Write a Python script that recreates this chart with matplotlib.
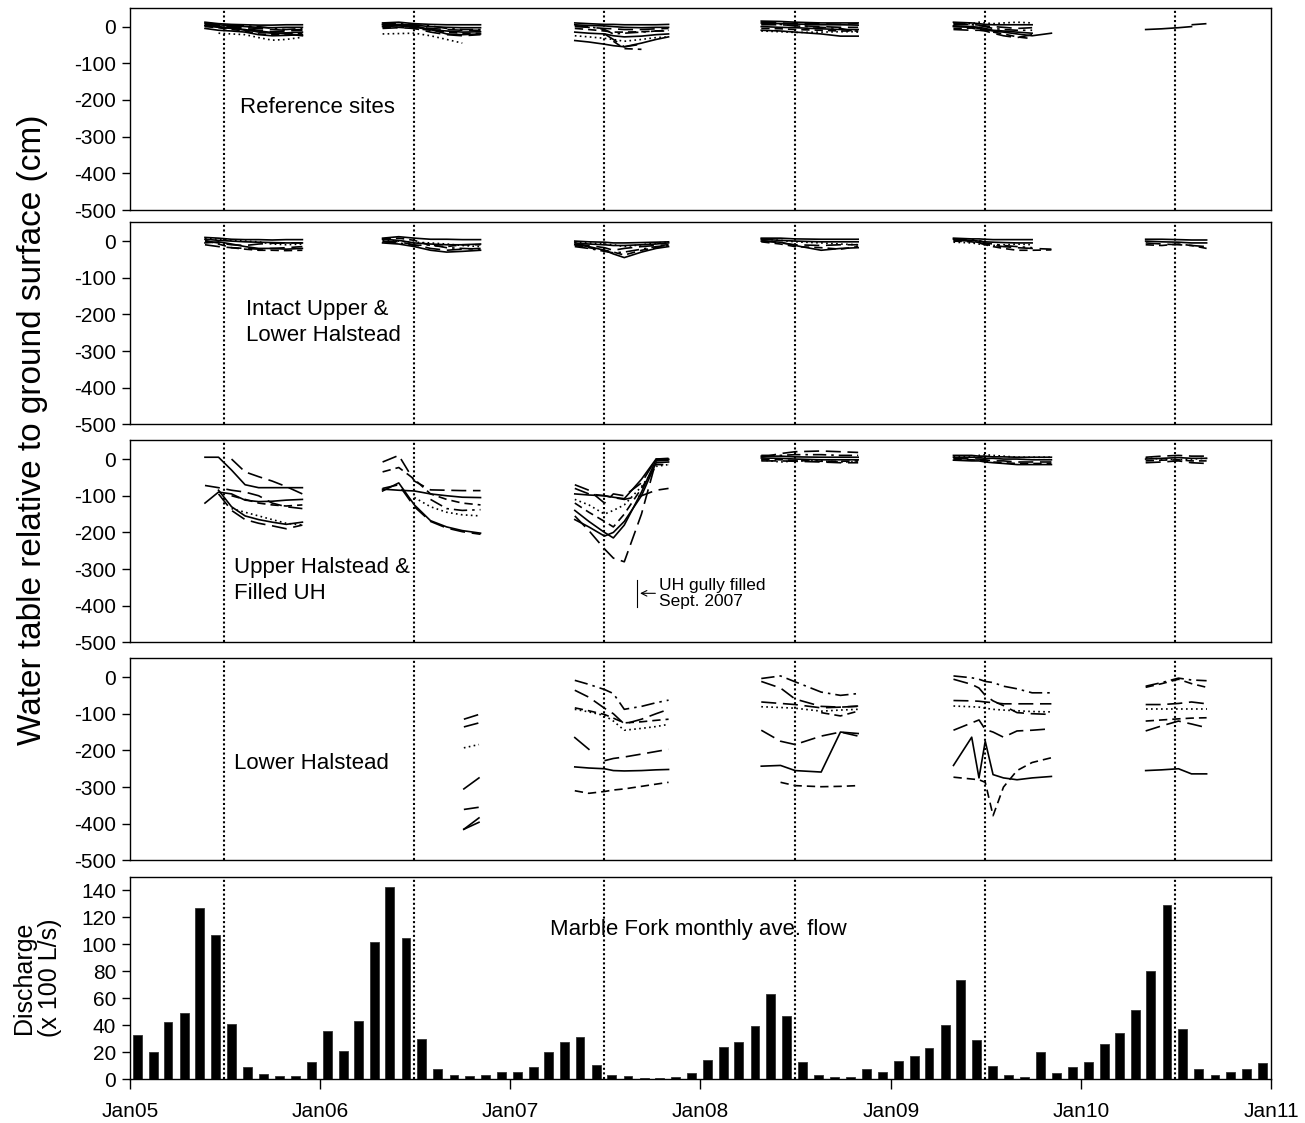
import numpy as np
import pandas as pd
import matplotlib
matplotlib.use("Agg")
import matplotlib.pyplot as plt
import matplotlib.dates as mdates

plt.rcParams['font.family'] = ['Liberation Sans', 'DejaVu Sans']
plt.rcParams['axes.unicode_minus'] = False

nan = np.nan

# sampling dates of each field season
D05 = ["2005-05-25", "2005-06-20", "2005-07-15", "2005-08-10", "2005-09-05", "2005-10-01", "2005-10-28", "2005-11-28"]
D06 = ["2006-05-01", "2006-06-01", "2006-07-01", "2006-08-01", "2006-09-01", "2006-10-01", "2006-11-05"]
D06L = ["2006-10-04", "2006-11-02"]
D07 = ["2007-05-05", "2007-06-01", "2007-07-01", "2007-07-18", "2007-08-08", "2007-09-10", "2007-10-08", "2007-11-01"]
D08 = ["2008-04-27", "2008-06-03", "2008-07-01", "2008-08-20", "2008-09-26", "2008-10-30"]
D09 = ["2009-05-01", "2009-06-05", "2009-06-19", "2009-07-01", "2009-07-16", "2009-08-05", "2009-08-31", "2009-09-29", "2009-11-05"]
D10 = ["2010-05-05", "2010-06-05", "2010-07-07", "2010-08-01", "2010-08-30"]

# --- Reference sites (cm)
REF05 = [[12, 8, 6, 5, 4, 4, 5, 5], [8, 5, 2, 0, -2, -3, -2, -2], [5, 2, -2, -6, -10, -14, -12, -10],
         [2, -2, -5, -8, -15, -18, -17, -15], [0, -3, -8, -12, -20, -22, -20, -18], [10, 6, 4, 2, 0, -5, -8, -5],
         [-5, -10, -12, -15, -22, -25, -24, -22], [nan, -18, -20, -22, -30, -37, -35, -29],
         [6, 3, 0, -3, -5, -8, -10, -8], [3, 0, -4, -10, -12, -16, -20, -25]]
REF05_LS = ["s", "s", "ld", "s", "d", "dd", "s", "o", "ld", "s"]
REF06 = [[10, 12, 8, 6, 5, 5, 5], [5, 6, 4, 0, -2, -3, -3], [2, 3, 0, -5, -8, -10, -10],
         [0, 2, -2, -8, -12, -15, -14], [-3, -2, -5, -10, -15, -18, -18], [-20, -19, -18, -25, -35, -45, nan],
         [6, 4, 2, -8, -20, -22, -20], [8, 8, 5, 2, -5, -8, -8], [-5, -3, -5, -15, -22, -25, -22]]
REF06_LS = ["s", "s", "ld", "s", "d", "o", "s", "dd", "ld"]
REF07 = [[10, 8, 6, 6, 5, 5, 5, 6], [5, 3, 2, 0, -2, -3, -2, -2], [0, -2, -5, -6, -8, -8, -6, -5],
         [-5, -8, -12, -15, -15, -14, -12, -10], [-15, -18, -20, -25, -28, -26, -22, -20],
         [-25, -28, -32, -35, -40, -35, -30, -28], [-38, -42, -48, -52, -55, -45, -35, -28],
         [nan, nan, -20, -35, -55, -48, nan, nan], [nan, nan, nan, -40, -60, -62, nan, nan],
         [2, 0, -8, -20, -18, -15, -12, -12]]
REF07_LS = ["s", "s", "ld", "d", "s", "o", "s", "ld", "d", "dd"]
REF08 = [[15, 14, 12, 10, 10, 10], [10, 8, 7, 5, 5, 4], [5, 5, 3, 0, -2, -2], [0, -2, -3, -6, -8, -8],
         [-5, -6, -8, -10, -12, -12], [-10, -12, -15, -20, -26, -26], [8, 6, 2, -2, -5, -15],
         [-12, -14, -16, -15, -14, -14], [12, 10, 8, 8, 6, 8]]
REF08_LS = ["s", "s", "ld", "s", "d", "s", "dd", "o", "ld"]
REF09 = [[12, 10, 8, 6, 5, 5, 5, 5, nan], [5, 6, 4, 2, 0, -2, -5, -3, nan], [8, 8, 12, 10, 8, 10, 12, 10, nan],
         [0, -2, -5, -8, -12, -15, -20, -25, -18], [-5, -4, -8, -10, -15, -20, -28, -33, nan],
         [2, 0, -2, -5, -10, -12, -15, -18, nan], [-8, -10, -10, -12, -18, -25, -30, -22, nan],
         [10, 5, 3, 0, -5, -8, -10, -10, nan]]
REF09_LS = ["s", "ld", "o", "s", "d", "s", "ld", "dd"]
REF10 = [[-8, -6, -3, 0, nan], [nan, nan, nan, 5, 8]]
REF10_LS = ["s", "ld"]

# --- Intact Upper & Lower Halstead (cm)
INT05 = [[10, 8, 5, 4, 4, 3, 4, 4], [5, 2, 0, -2, -3, -4, -5, -5], [0, -5, -10, -12, -8, -6, -5, -5],
         [-5, -2, -8, -15, -20, -20, -22, -20], [2, -8, -18, -22, -25, -25, -26, -25],
         [8, 5, 2, 0, -2, -8, -10, -8], [-10, -15, -18, -20, -22, -20, -18, -15]]
INT05_LS = ["s", "s", "ld", "s", "d", "o", "ld"]
INT06 = [[8, 12, 8, 5, 5, 4, 4], [5, 2, -5, -8, -10, -10, -8], [0, -2, -10, -20, -25, -22, -20],
         [-5, -8, -15, -25, -30, -28, -25], [2, 0, -3, -5, -8, -12, -15], [6, 8, 2, -12, -15, -10, -10],
         [-2, -5, -12, -10, -18, -20, -22]]
INT06_LS = ["s", "s", "ld", "s", "o", "d", "dd"]
INT07 = [[0, -2, -3, -5, -5, -4, -3, -2], [-5, -8, -10, -12, -12, -10, -8, -5], [-8, -12, -18, -25, -20, -15, -12, -10],
         [-10, -15, -25, -35, -45, -30, -20, -15], [-12, -18, -25, -30, -38, -25, -18, -12],
         [-3, -5, -8, -10, -15, -10, -5, -3], [-15, -20, -28, -32, -30, -22, -15, -12]]
INT07_LS = ["s", "s", "ld", "s", "d", "o", "dd"]
INT08 = [[8, 8, 6, 5, 5, 5], [5, 2, 0, -2, -2, -2], [2, -5, -10, -12, -10, -10], [0, -3, -12, -25, -20, -18],
         [-2, -8, -15, -18, -22, -15], [6, 2, -2, -5, -8, -10]]
INT08_LS = ["s", "s", "ld", "s", "d", "o"]
INT09 = [[8, 6, 6, 5, 4, 4, 4, 4, nan], [5, 2, 0, -2, -3, -4, -5, -5, nan], [2, 0, -4, -8, -12, -15, -18, -20, -22],
         [0, -2, -5, -10, -15, -20, -25, -25, -24], [-3, -5, -8, -10, -12, -10, -8, -10, nan],
         [6, 4, 2, -5, -8, -12, -15, -18, nan]]
INT09_LS = ["s", "s", "ld", "d", "o", "dd"]
INT10 = [[5, 5, 4, 3, 3], [0, -2, -3, -5, -5], [-5, -8, -10, -12, -15], [-10, -12, -8, -12, -20]]
INT10_LS = ["s", "s", "ld", "d"]

# --- Upper Halstead & Filled UH (cm)
UH05 = [[5, 5, -30, -70, -78, -78, -78, -78], [nan, nan, 0, -35, -48, -60, -75, -95],
        [-120, -90, -95, -112, -116, -115, -112, -110], [-72, -78, -85, -90, -100, -120, -130, -135],
        [nan, -85, -130, -155, -165, -172, -178, -172], [nan, -95, -140, -165, -175, -182, -190, -180],
        [nan, nan, -135, -145, -155, -165, -175, -180], [nan, nan, -100, -110, -120, -125, -128, -125]]
UH05_LS = ["s", "ld", "s", "ld", "s", "ld", "o", "d"]
UH06 = [[-8, 10, -60, -84, -85, -86, -86], [-35, -23, -55, -95, -110, -120, -125],
        [-87, -65, -125, -168, -185, -195, -202], [-82, -85, -87, -95, -100, -104, -105],
        [-80, -70, -130, -170, -188, -198, -205], [nan, nan, -105, -130, -145, -152, -155],
        [nan, nan, nan, -110, -135, -140, -138]]
UH06_LS = ["ld", "d", "s", "s", "ld", "o", "dd"]
UH07 = [[-95, -98, -100, -104, -108, -55, 0, 0], [-155, -195, -245, -270, -280, -150, -5, -3],
        [-140, -170, -200, -215, -180, -90, -2, -2], [-70, -85, -120, -95, -100, -65, 0, 2],
        [-110, -125, -150, -140, -125, -75, -20, -15], [-120, -145, -170, -185, -150, -80, -15, -15],
        [-80, -95, -100, -105, -110, -100, -85, -80], [-165, -185, -210, -200, -170, -100, -10, -8]]
UH07_LS = ["s", "ld", "s", "ld", "o", "d", "ld", "s"]
UH08 = [[5, 15, 20, 22, 20, 18], [8, 8, 6, 5, 5, 5], [3, 2, 0, -2, -2, -2], [0, -2, -4, -6, -6, -5],
        [-5, -5, -6, -8, -10, -10], [10, 10, 12, 12, 10, 10], [-2, -8, -5, -5, -8, -8]]
UH08_LS = ["ld", "s", "s", "d", "ld", "dd", "o"]
UH09 = [[10, 10, 8, 8, 6, 6, 5, 5, 5], [5, 5, 4, 2, 2, 0, 0, -2, -2], [2, 0, 0, -2, -5, -5, -8, -8, -8],
        [0, -2, -3, -5, -8, -10, -12, -12, -12], [8, 8, 10, 12, 10, 8, 5, 5, 5],
        [-3, -5, -5, -8, -10, -12, -15, -15, -15]]
UH09_LS = ["s", "s", "ld", "d", "o", "s"]
UH10 = [[5, 8, 10, 8, 8], [0, 2, 4, 2, 2], [-5, -3, -2, -5, -5], [-10, -8, -5, -10, -12], [3, 0, -2, 0, 2]]
UH10_LS = ["ld", "s", "d", "ld", "o"]

# --- Lower Halstead (cm)
LH06 = [[-115, -102], [-136, -125], [-193, -184], [-305, -275], [-361, -355], [-415, -384], [-415, -396]]
LH06_LS = ["ld", "ld", "o", "s", "ld", "s", "s"]
LH07 = [[-9, -20, -34, -45, -88, -80, -70, -63], [-36, -55, -85, -100, -128, -115, -100, -88],
        [-88, -95, -105, -120, -145, -140, -135, -129], [-84, -92, -102, -112, -125, -122, -118, -115],
        [-165, -197, nan, nan, nan, nan, nan, nan], [nan, nan, -228, -222, -218, -210, -203, -197],
        [-245, -248, -250, -255, -256, -255, -253, -252], [-310, -317, -312, -308, -305, -298, -292, -287]]
LH07_LS = ["dd", "ld", "o", "d", "s", "ld", "s", "d"]
LH08 = [[-4, 3, -13, -41, -50, -45], [-12, -30, -60, -80, -82, -80], [-68, -72, -75, -84, -82, -79],
        [-81, -83, -85, -93, -90, -88], [nan, nan, nan, -97, -106, -93], [-145, -175, -184, -161, -150, -161],
        [-243, -241, -255, -259, -150, -154], [nan, -287, -296, -299, -298, -296]]
LH08_LS = ["dd", "ld", "ld", "o", "d", "ld", "s", "d"]
LH09 = [[3, -2, -6, -12, -15, -25, -32, -43, -43], [-6, -20, -30, -50, -65, -78, -97, -100, -102],
        [-64, -65, -66, -68, -70, -73, -73, -73, -73], [-79, -81, -82, -85, -88, -90, -92, -94, -95],
        [-145, -125, -117, -143, -150, -164, -147, -145, -141], [-241, -164, -275, -175, -266, -275, -280, -275, -271],
        [-273, -278, -280, -287, -378, -300, -255, -233, -220]]
LH09_LS = ["dd", "ld", "ld", "o", "ld", "s", "d"]
LH10 = [[-25, -15, -3, -8, -10], [-28, -18, -6, -18, -28], [-75, -75, -72, -68, -73], [-86, -86, -86, -86, -86],
        [-120, -117, -114, -112, -111], [-147, -133, -120, -128, -138], [-255, -253, -250, -264, -264]]
LH10_LS = ["dd", "d", "ld", "o", "d", "ld", "s"]

# --- Marble Fork monthly mean discharge (x 100 L/s), Jan 2005 - Dec 2010
FLOW = [32.8, 20.6, 42.3, 49, 126.9, 107.2, 40.8, 9.2, 4, 2.7, 2.7, 13.2,
        35.8, 20.9, 43.3, 102, 142.3, 105, 30.3, 8, 3.5, 2.7, 3.2, 5.2,
        5.7, 9.5, 20, 27.4, 31.6, 10.4, 3.5, 2.7, 1.2, 1.2, 1.7, 5,
        14.7, 23.9, 27.4, 39.8, 63, 46.8, 13.2, 3.2, 1.5, 2, 8, 5.7,
        13.7, 17.7, 23.1, 40, 73.9, 29.1, 10.2, 3.2, 1.5, 20.1, 5, 9.5,
        13.2, 26.4, 34.6, 51.2, 80.6, 129.4, 37, 8, 3.5, 5.2, 8, 12.4]

LS = {"s": "-", "ld": (0, (9, 4)), "d": (0, (5, 3)), "o": (0, (1, 2)), "dd": (0, (8, 3, 1.5, 3))}

PANELS = [
    ("Reference sites", [(D05, REF05, REF05_LS), (D06, REF06, REF06_LS), (D07, REF07, REF07_LS),
                         (D08, REF08, REF08_LS), (D09, REF09, REF09_LS), (D10, REF10, REF10_LS)]),
    ("Intact Upper &\nLower Halstead", [(D05, INT05, INT05_LS), (D06, INT06, INT06_LS), (D07, INT07, INT07_LS),
                                        (D08, INT08, INT08_LS), (D09, INT09, INT09_LS), (D10, INT10, INT10_LS)]),
    ("Upper Halstead &\nFilled UH", [(D05, UH05, UH05_LS), (D06, UH06, UH06_LS), (D07, UH07, UH07_LS),
                                     (D08, UH08, UH08_LS), (D09, UH09, UH09_LS), (D10, UH10, UH10_LS)]),
    ("Lower Halstead", [(D06L, LH06, LH06_LS), (D07, LH07, LH07_LS), (D08, LH08, LH08_LS),
                        (D09, LH09, LH09_LS), (D10, LH10, LH10_LS)]),
]
LABEL_POS = [("2005-07-31", -221), ("2005-08-12", -221), ("2005-07-19", -330), ("2005-07-19", -235)]

fig = plt.figure(figsize=(13.05, 11.23), dpi=100)
left, width = 0.0996, 0.8745
tops = [0.9933, 0.8023, 0.6082, 0.4141, 0.2191]
h = 0.1803
axes = [fig.add_axes([left, t - h, width, h]) for t in tops]

x0, x1 = pd.Timestamp("2005-01-01"), pd.Timestamp("2011-01-01")
julys = [pd.Timestamp(f"{y}-07-01") for y in range(2005, 2011)]

for ax, (label, seasons), (lx, ly) in zip(axes[:4], PANELS, LABEL_POS):
    for dates, series, styles in seasons:
        d = pd.to_datetime(dates)
        for vals, st in zip(series, styles):
            ax.plot(d, vals, color="black", lw=1.2, linestyle=LS[st])
    ax.set_ylim(-500, 52)
    ax.set_yticks([0, -100, -200, -300, -400, -500])
    ax.text(pd.Timestamp(lx), ly, label, fontsize=16, va="center", ha="left", linespacing=1.3)
    ax.tick_params(axis="x", bottom=False, labelbottom=False)

# bars: one per month, drawn mid-month
months = pd.date_range("2005-01-01", periods=len(FLOW), freq="MS")
bx = axes[4]
bx.bar(months + pd.Timedelta(days=14), FLOW, width=17, color="black", edgecolor="#333333", linewidth=0.6)
bx.set_ylim(0, 150)
bx.set_yticks(range(0, 141, 20))
bx.text(pd.Timestamp("2007-03-19"), 111, "Marble Fork monthly ave. flow", fontsize=16, va="center", ha="left")
bx.set_ylabel("Discharge\n(x 100 L/s)", fontsize=18, labelpad=14, linespacing=1.1)
bx.xaxis.set_major_locator(mdates.YearLocator())
bx.xaxis.set_major_formatter(mdates.DateFormatter("%b%y"))

for ax in axes:
    ax.set_xlim(x0, x1)
    for j in julys:
        ax.axvline(j, color="black", lw=1.5, linestyle=(0, (1, 1.2)), zorder=0.5)
    ax.tick_params(axis="both", direction="out", labelsize=15, width=1)
    ax.tick_params(axis="y", length=6, pad=4)
    for sp in ax.spines.values():
        sp.set_linewidth(1.0)
bx.tick_params(axis="x", length=7, pad=9)

# gully fill annotation
ux = axes[2]
ux.plot([pd.Timestamp("2007-09-01")] * 2, [-330, -404], color="black", lw=0.8)
ux.annotate("", xy=(pd.Timestamp("2007-09-02"), -366), xytext=(pd.Timestamp("2007-10-12"), -366),
            arrowprops=dict(arrowstyle="->", lw=0.8, color="black"))
ux.text(pd.Timestamp("2007-10-14"), -366, "UH gully filled\nSept. 2007", fontsize=12.5, va="center", ha="left",
        linespacing=1.05)

fig.text(0.025, 1 - 430 / 1123, "Water table relative to ground surface (cm)", rotation=90,
         fontsize=24, va="center", ha="center")

fig.savefig("out.png", dpi=100)
